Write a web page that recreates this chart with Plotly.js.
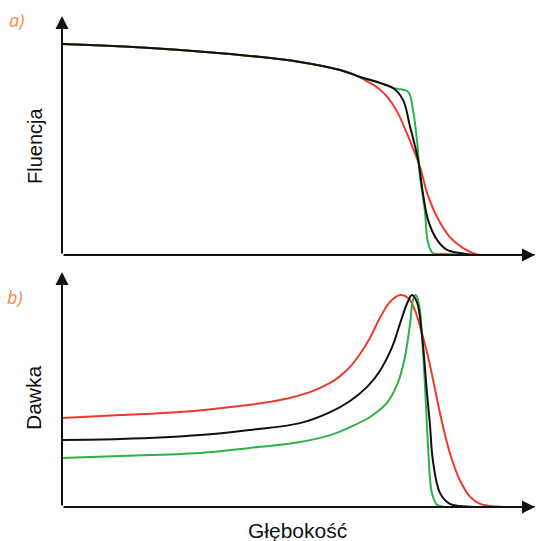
<!DOCTYPE html>
<html><head><meta charset="utf-8">
<script src="https://cdn.plot.ly/plotly-3.0.1.min.js"></script>
<style>html,body{margin:0;padding:0;background:#fff}#c{width:539px;height:541px}</style>
</head><body><div id="c"></div>
<script>
// Top panel (a) – fluence vs depth
const fluBlackX = [0, 18.6, 39.7, 50.3, 58.8, 63.0, 67.2, 70.0, 72.1, 73.6, 75.3, 76.3, 77.4, 79.3, 81.4, 84.1, 87.3, 100];
const fluBlackY = [88.3, 86.6, 83.3, 80.8, 77.4, 74.5, 72.0, 69.9, 64.9, 53.6, 39.7, 25.9, 14.6, 6.3, 2.1, 0.8, 0, 0];
const fluGreenX = [0, 18.6, 39.7, 50.3, 58.8, 63.0, 67.2, 70.0, 71.0, 73.2, 74.2, 75.1, 75.7, 76.7, 77.4, 78.4, 80.5, 85, 100];
const fluGreenY = [88.3, 86.6, 83.3, 80.8, 77.4, 74.5, 72.0, 69.9, 69.5, 68.2, 60.7, 46.9, 32.6, 18.8, 5.0, 0.8, 0.5, 0, 0];
const fluRedX = [0, 18.6, 39.7, 50.3, 58.8, 61.5, 65.1, 67.0, 68.9, 70.8, 72.9, 75.7, 77.2, 79.3, 82.0, 84.8, 86.9, 88.6, 100];
const fluRedY = [88.3, 86.6, 83.3, 80.8, 77.4, 75.8, 72.0, 69.6, 65.8, 60.2, 51.0, 36.8, 25.9, 15.9, 7.5, 2.9, 0.8, 0, 0];
// Bottom panel (b) – dose vs depth
const doseRedX = [0, 12.3, 24.9, 37.6, 46.1, 52.4, 56.7, 58.8, 60.9, 63.0, 65.1, 67.2, 69.3, 71.5, 73.2, 74.6, 76.1, 77.4, 78.9, 79.9, 82.0, 84.1, 86.3, 88.4, 90.5, 93.7, 100];
const doseRedY = [37.9, 39.1, 40.4, 43.0, 45.5, 48.9, 52.8, 55.7, 59.6, 65.1, 71.9, 80.4, 87.2, 90.2, 88.9, 83.8, 74.0, 63.8, 49.8, 40.0, 23.0, 11.5, 4.3, 1.3, 0.4, 0, 0];
const doseBlackX = [0, 12.3, 29.2, 39.7, 50.3, 56.7, 60.9, 64.5, 67.2, 69.8, 71.5, 73.0, 74.0, 75.1, 76.1, 77.2, 77.8, 78.4, 79.9, 82.0, 84.1, 87.3, 100];
const doseBlackY = [28.5, 28.9, 30.6, 32.8, 35.7, 40.4, 45.1, 51.1, 57.9, 68.1, 78.3, 86.8, 90.2, 86.8, 73.2, 47.7, 34.9, 20.0, 6.0, 1.3, 0.4, 0, 0];
const doseGreenX = [0, 12.3, 29.2, 39.7, 50.3, 56.7, 60.9, 65.1, 68.7, 71.0, 72.5, 73.6, 74.2, 74.8, 75.5, 76.3, 77.0, 77.4, 78.2, 79.3, 81.4, 100];
const doseGreenY = [20.9, 21.7, 23.0, 25.1, 27.7, 30.6, 34.0, 38.3, 44.3, 52.8, 63.8, 78.3, 88.1, 90.2, 86.0, 66.8, 41.3, 25.5, 6.0, 0.9, 0, 0];

const RED = '#ec3b2e', BLACK = '#111111', GREEN = '#2db24a';
const tr = (x, y, c, xa, ya) => ({x, y, type: 'scatter', mode: 'lines', xaxis: xa, yaxis: ya,
  line: {color: c, width: 2, shape: 'spline', smoothing: 1}, hoverinfo: 'skip', showlegend: false});

const data = [
  tr(fluRedX, fluRedY, RED, 'x', 'y'),
  tr(fluGreenX, fluGreenY, GREEN, 'x', 'y'),
  tr(fluBlackX, fluBlackY, BLACK, 'x', 'y'),
  tr(doseRedX, doseRedY, RED, 'x2', 'y2'),
  tr(doseGreenX, doseGreenY, GREEN, 'x2', 'y2'),
  tr(doseBlackX, doseBlackY, BLACK, 'x2', 'y2')
];

const ax = {range: [0, 100], showgrid: false, zeroline: false, showline: false, showticklabels: false, ticks: '', fixedrange: true};
const topDom = [(507 - 255) / 491, 1];
const botDom = [0, (507 - 272) / 491];
const arrow = (x, y, axp, ayp) => ({xref: 'paper', yref: 'paper', x, y, ax: axp, ay: ayp, axref: 'pixel', ayref: 'pixel',
  showarrow: true, arrowhead: 2, arrowsize: 1.3, arrowwidth: 2, arrowcolor: '#111', standoff: 0, startstandoff: 0, text: ''});
const orange = '#f08a4b';
const px = v => (v - 62) / 473, py = v => (507 - v) / 491;
const layout = {
  width: 539, height: 541,
  margin: {l: 62, r: 4, t: 16, b: 34},
  paper_bgcolor: '#fff', plot_bgcolor: '#fff',
  xaxis: Object.assign({}, ax, {domain: [0, 1], anchor: 'y'}),
  yaxis: Object.assign({}, ax, {domain: topDom, anchor: 'x'}),
  xaxis2: Object.assign({}, ax, {domain: [0, 1], anchor: 'y2'}),
  yaxis2: Object.assign({}, ax, {domain: botDom, anchor: 'x2'}),
  annotations: [
    arrow(1, topDom[0], -473, 0),
    arrow(0, 1, 0, 239),
    arrow(1, 0, -473, 0),
    arrow(0, botDom[1], 0, 235),
    {xref: 'paper', yref: 'paper', x: px(16), y: py(20), text: '<i>a)</i>', showarrow: false,
      font: {family: 'Open Sans, sans-serif', size: 18, color: orange}, xanchor: 'center', yanchor: 'middle'},
    {xref: 'paper', yref: 'paper', x: px(15), y: py(297), text: '<i>b)</i>', showarrow: false,
      font: {family: 'Open Sans, sans-serif', size: 18, color: orange}, xanchor: 'center', yanchor: 'middle'},
    {xref: 'paper', yref: 'paper', x: px(35), y: py(146), text: 'Fluencja', textangle: -90, showarrow: false,
      font: {family: 'Liberation Sans, Arial, sans-serif', size: 20, color: '#111'}, xanchor: 'center', yanchor: 'middle'},
    {xref: 'paper', yref: 'paper', x: px(33), y: py(398), text: 'Dawka', textangle: -90, showarrow: false,
      font: {family: 'Liberation Sans, Arial, sans-serif', size: 21, color: '#111'}, xanchor: 'center', yanchor: 'middle'},
    {xref: 'paper', yref: 'paper', x: px(297), y: py(530), text: 'Głębokość', showarrow: false,
      font: {family: 'Liberation Sans, Arial, sans-serif', size: 21, color: '#111'}, xanchor: 'center', yanchor: 'middle'}
  ]
};
Plotly.newPlot('c', data, layout, {displayModeBar: false, staticPlot: true});
</script></body></html>
